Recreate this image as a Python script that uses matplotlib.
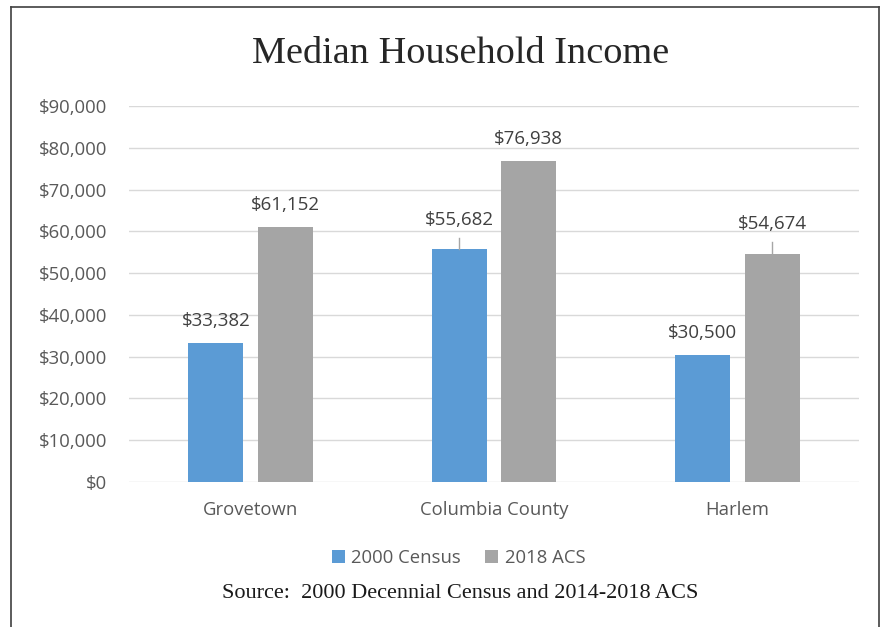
import numpy as np
import matplotlib.pyplot as plt
from matplotlib.lines import Line2D
from matplotlib.ticker import FuncFormatter

# data
places = ['Grovetown', 'Columbia County', 'Harlem']
census_2000 = [33382, 55682, 30500]
acs_2018 = [61152, 76938, 54674]
series_names = ['2000 Census', '2018 ACS']

blue = '#5B9BD5'
gray = '#A5A5A5'
txt = '#595959'

plt.rcParams['font.family'] = ['Open Sans', 'DejaVu Sans']

fig = plt.figure(figsize=(8.87, 6.27), dpi=100)
ax = fig.add_axes([0.1454, 0.2313, 0.8230, 0.5996])

x = np.arange(len(places))
w = 0.226
gap = 0.06
b1 = ax.bar(x - (w + gap) / 2, census_2000, w, color=blue, label=series_names[0], zorder=3)
b2 = ax.bar(x + (w + gap) / 2, acs_2018, w, color=gray, label=series_names[1], zorder=3)

ax.set_xlim(-0.5, 2.5)
ax.set_ylim(0, 90000)
ax.set_yticks(np.arange(0, 90001, 10000))
ax.yaxis.set_major_formatter(FuncFormatter(lambda v, p: '${:,.0f}'.format(v)))
ax.set_xticks(x)
ax.set_xticklabels(places)
ax.tick_params(axis='both', length=0, colors=txt, labelsize=13.3)
ax.tick_params(axis='y', pad=15.5)
ax.tick_params(axis='x', pad=14)
ax.grid(axis='y', color='#D9D9D9', linewidth=1, zorder=0)
for s in ax.spines.values():
    s.set_visible(False)

# value labels; two are lifted with a short leader line
lifted = {(0, 1): 1900, (1, 2): 1900}
for si, bars in enumerate([b1, b2]):
    for ci, bar in enumerate(bars):
        h = bar.get_height()
        cx = bar.get_x() + bar.get_width() / 2
        extra = lifted.get((si, ci), 0)
        y = h + 5200 + extra
        ax.text(cx, y, '${:,.0f}'.format(h), ha='center', va='center',
                fontsize=13.5, color='#404040', zorder=4)
        if extra:
            ax.plot([cx, cx], [h + 100, y - 4300], color='#A6A6A6', lw=1, zorder=4)

fig.legend(handles=[b1, b2], labels=series_names, loc='center',
           bbox_to_anchor=(0.517, 0.110), ncol=2, frameon=False,
           fontsize=13.3, handlelength=0.7, handleheight=0.7,
           handletextpad=0.35, columnspacing=1.3, labelcolor=txt)

fig.text(0.519, 0.914, 'Median Household Income', ha='center', va='center',
         fontsize=27.5, family='Liberation Serif', color='#262626')
fig.text(0.519, 0.053, 'Source:  2000 Decennial Census and 2014-2018 ACS',
         ha='center', va='center', fontsize=16, family='Liberation Serif',
         color='#1a1a1a')

# outer frame (bottom edge is cut off in the original)
for xs, ys in [([11, 11], [0, 620]), ([11, 879], [620, 620]), ([879, 879], [0, 620])]:
    fig.add_artist(Line2D(np.array(xs) / 887, np.array(ys) / 627,
                          color='#404040', lw=1.2))

fig.savefig('out.png', dpi=100)
